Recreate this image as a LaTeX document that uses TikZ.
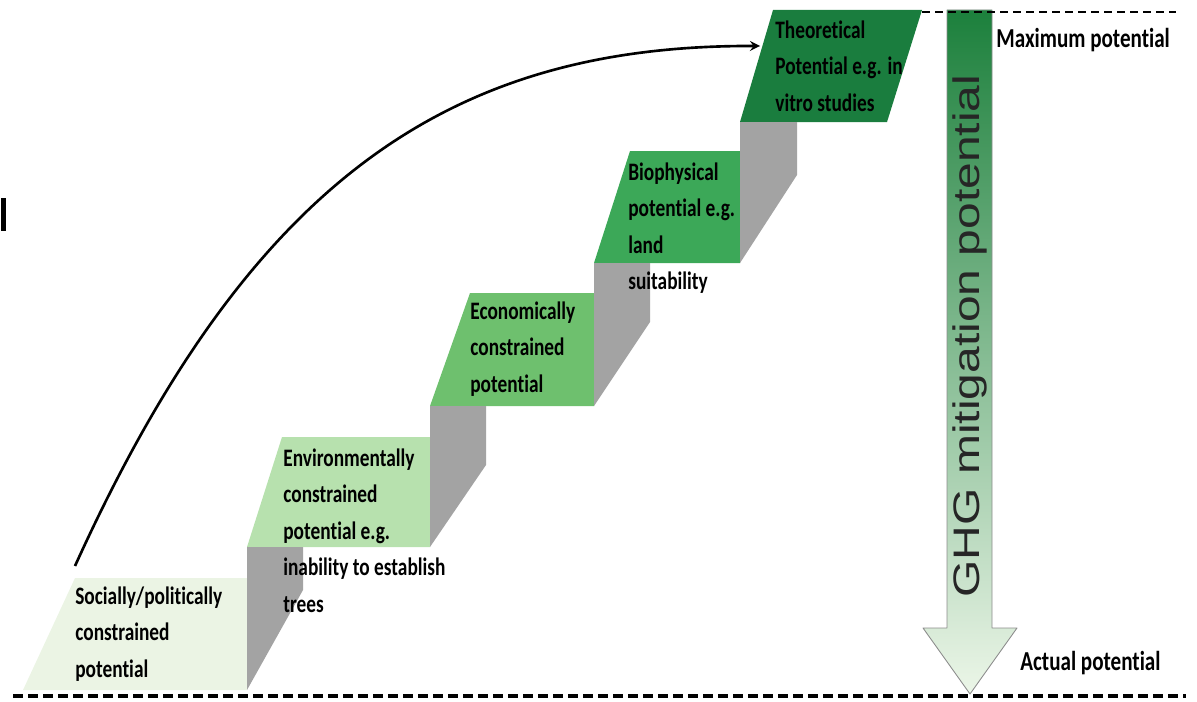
\documentclass[tikz,border=0pt]{standalone}
\usepackage{fontspec}
\setmainfont{Carlito}[Ligatures=NoCommon]
\newfontfamily\ghgfont{Liberation Sans}
\definecolor{stepa}{RGB}{235,244,228}
\definecolor{stepb}{RGB}{183,225,174}
\definecolor{stepc}{RGB}{110,192,110}
\definecolor{stepd}{RGB}{60,168,88}
\definecolor{stepe}{RGB}{26,125,62}
\definecolor{riser}{RGB}{163,163,163}
\definecolor{ghgtop}{RGB}{28,128,60}
\definecolor{ghgbot}{RGB}{236,246,232}
\begin{document}
\begin{tikzpicture}[x=0.2mm, y=-0.2mm, line join=round, >=stealth,
		steplabel/.style={anchor=north west, inner sep=0pt, align=left, yscale=1.3, transform shape, font=\bfseries\fontsize{11}{16}\selectfont},
		sidelabel/.style={anchor=west, inner sep=0pt, yscale=1.3, transform shape, font=\bfseries\fontsize{12}{14}\selectfont}]
				\useasboundingbox (0,0) rectangle (1197,701);
				\fill[stepa] (23,690)--(75,578)--(247,578)--(247,690)--cycle;
				\fill[stepb] (247,547)--(282,437)--(430,437)--(430,547)--cycle;
				\fill[stepc] (430,406)--(470,293)--(594,293)--(594,406)--cycle;
				\fill[stepd] (594,263)--(630,151)--(740,151)--(740,263)--cycle;
				\fill[stepe] (740,122)--(773,10)--(922,10)--(887,122)--cycle;
				\fill[riser] (247,547)--(303,547)--(303,590)--(247,690)--cycle;
				\fill[riser] (430,406)--(486,406)--(486,465)--(430,547)--cycle;
				\fill[riser] (594,263)--(650,263)--(650,322)--(594,406)--cycle;
				\fill[riser] (740,122)--(797,122)--(797,175)--(740,263)--cycle;
				\fill (1,198) rectangle (6,231);
				\path[draw=black!45, line width=0.5pt, top color=ghgtop, bottom color=ghgbot]
					(947,10)--(992,10)--(992,628)--(1017,628)--(970,694)--(923,628)--(947,628)--cycle;
				\node[rotate=90, xscale=1.3, transform shape, inner sep=0pt, text=black!85, font=\ghgfont\fontsize{21}{21}\selectfont] (ghg) at (970,336) {GHG mitigation potential};
				\draw[line width=1.3pt, dash pattern=on 1.6mm off 1mm] (922,12)--(1176,12);
				\draw[line width=2.2pt, dash pattern=on 2mm off 1mm] (13,696)--(1186,696);
				\node[steplabel] (s1) at (75,586) {Socially/politically\\constrained\\potential};
				\node[steplabel] (s2) at (283,448) {Environmentally\\constrained\\potential e.g.\\inability to establish\\trees};
				\node[steplabel] (s3) at (470,301) {Economically\\constrained\\potential};
				\node[steplabel] (s4) at (628,162) {Biophysical\\potential e.g.\\land\\suitability};
				\node[steplabel] (s5) at (775,20) {Theoretical\\Potential e.g. in\\vitro studies};
				\node[sidelabel] (maxp) at (996,40) {Maximum potential};
				\node[sidelabel] (actp) at (1020,663) {Actual potential};
				\coordinate (arcA) at (75,566);
				\coordinate (arcB) at (760,46);
				\draw[->, line width=1.5pt] (arcA) .. controls (250,180) and (450,45) .. (arcB);
			\end{tikzpicture}
\end{document}
